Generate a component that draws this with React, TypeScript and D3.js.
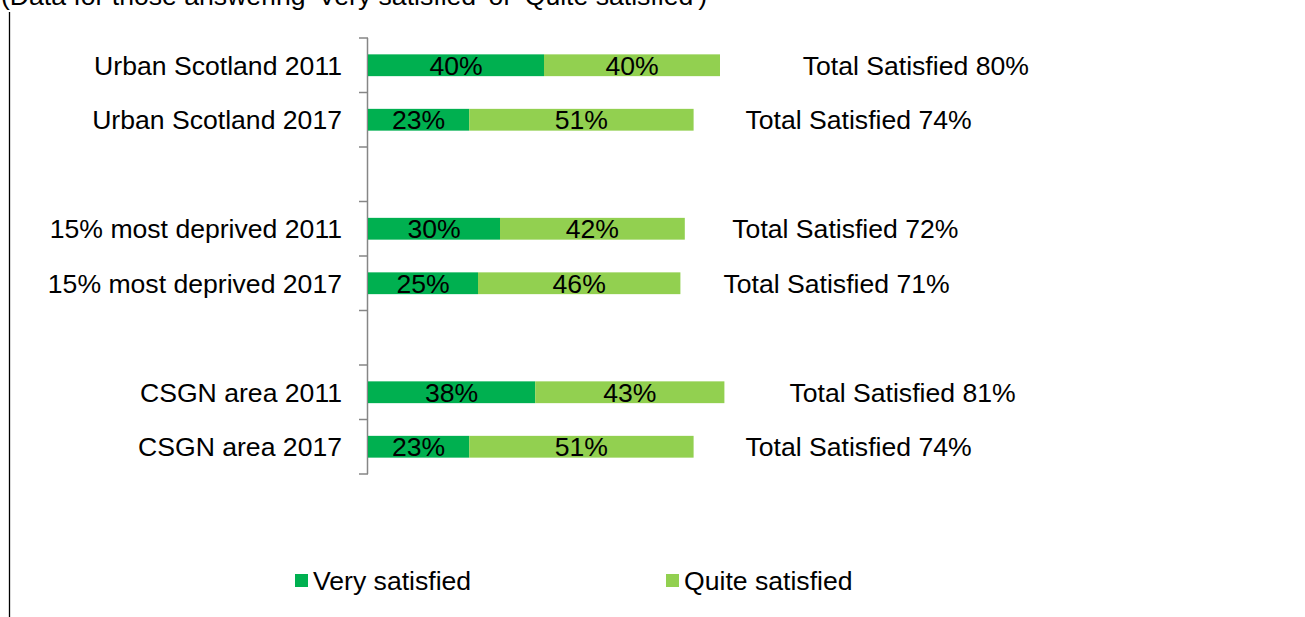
import React from 'react';
import * as d3 from 'd3';

// rows of the chart, with empty slots between the groups
const slots = ['Urban Scotland 2011', 'Urban Scotland 2017', 'gap-1', '15% most deprived 2011', '15% most deprived 2017', 'gap-2', 'CSGN area 2011', 'CSGN area 2017'];
const categories = ['Urban Scotland 2011', 'Urban Scotland 2017', '15% most deprived 2011', '15% most deprived 2017', 'CSGN area 2011', 'CSGN area 2017'];
const verySatisfied = [40, 23, 30, 25, 38, 23];
const quiteSatisfied = [40, 51, 42, 46, 43, 51];
const totalSatisfied = [80, 74, 72, 71, 81, 74];
// invisible third series that carries the "Total Satisfied" label
const hiddenTotal = [89, 75, 73, 71, 81, 75];
const seriesNames = ['Very satisfied', 'Quite satisfied'];
const colors = ['#00B050', '#92D050'];

const W = 1305;
const H = 617;
const font = "Arial, 'Liberation Sans', sans-serif";
const fs = 26.6;

export default function App() {
  const x = d3.scaleLinear().domain([0, 200]).range([368, 1248]);
  const y = d3.scaleBand<string>().domain(slots).range([38, 474]).padding(0);
  const barH = y.bandwidth() * 0.4;
  const tickYs = d3.range(slots.length + 1).map((i) => 38 + i * y.step());

  return (
    <div style={{ position: 'absolute', left: 0, top: 0 }}>
      <svg width={W} height={H} style={{ display: 'block', background: '#fff' }} fontFamily={font}>
        <text x={1} y={5} fontSize={fs} fill="#000">
          (Data for those answering 'Very satisfied' or 'Quite satisfied')
        </text>
        <line x1={9.5} x2={9.5} y1={12} y2={H} stroke="#000" strokeWidth={1.3} />

        {/* category axis */}
        <line x1={x(0) - 0.5} x2={x(0) - 0.5} y1={38} y2={474} stroke="#868686" strokeWidth={1.5} />
        {tickYs.map((t, i) => (
          <line key={`tick-${i}`} x1={x(0) - 9} x2={x(0)} y1={t} y2={t} stroke="#868686" strokeWidth={1.5} />
        ))}

        {categories.map((c, i) => {
          const cy = (y(c) ?? 0) + y.bandwidth() / 2;
          const v = verySatisfied[i];
          const q = quiteSatisfied[i];
          const labelX = x(totalSatisfied[i] + hiddenTotal[i] / 2);
          return (
            <g key={c}>
              <text x={342} y={cy} dy="0.35em" fontSize={fs} textAnchor="end" fill="#000">
                {c}
              </text>
              <rect x={x(0)} y={cy - barH / 2} width={x(v) - x(0)} height={barH} fill={colors[0]} />
              <rect x={x(v)} y={cy - barH / 2} width={x(v + q) - x(v)} height={barH} fill={colors[1]} />
              <text x={(x(0) + x(v)) / 2} y={cy} dy="0.36em" fontSize={fs} textAnchor="middle" fill="#000">
                {v}%
              </text>
              <text x={(x(v) + x(v + q)) / 2} y={cy} dy="0.36em" fontSize={fs} textAnchor="middle" fill="#000">
                {q}%
              </text>
              <text x={labelX} y={cy} dy="0.36em" fontSize={fs} textAnchor="middle" fill="#000">
                Total Satisfied {totalSatisfied[i]}%
              </text>
            </g>
          );
        })}

        {/* legend */}
        {seriesNames.map((s, i) => {
          const lx = i === 0 ? 295 : 666;
          return (
            <g key={s}>
              <rect x={lx} y={574} width={13} height={13} fill={colors[i]} />
              <text x={lx + 18} y={580.5} dy="0.36em" fontSize={fs} fill="#000">
                {s}
              </text>
            </g>
          );
        })}
      </svg>
    </div>
  );
}
